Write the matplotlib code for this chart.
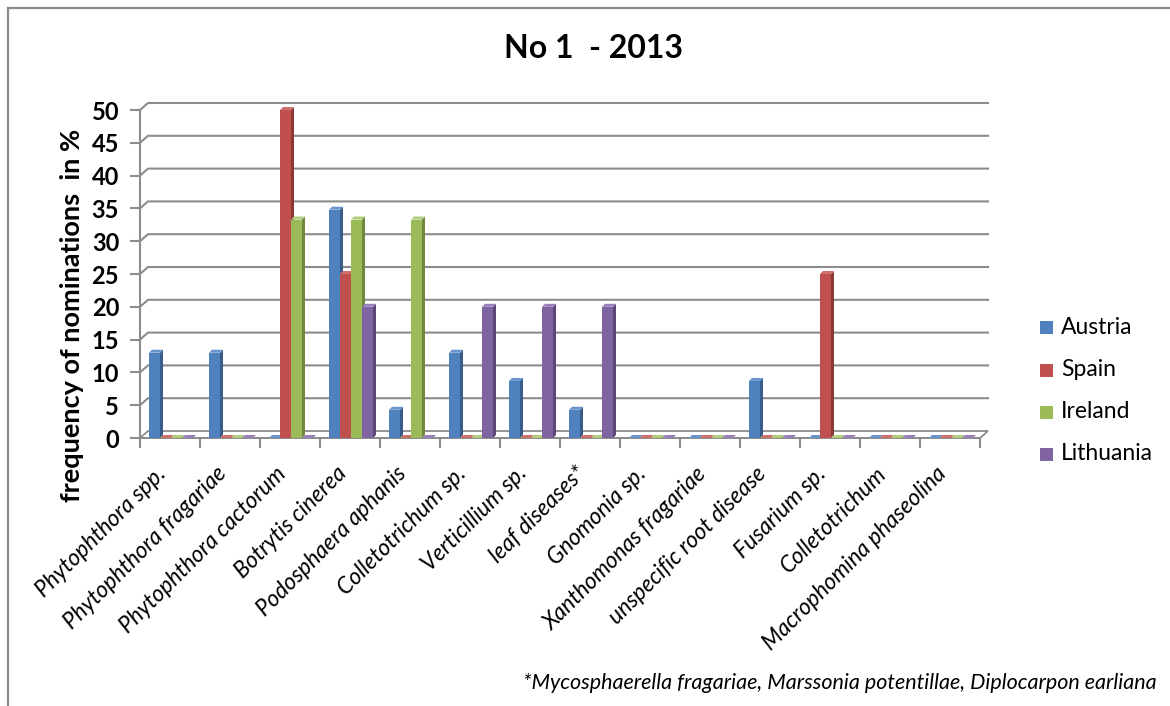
import matplotlib
matplotlib.use("Agg")
import matplotlib.pyplot as plt
from matplotlib.patches import Polygon
from matplotlib.lines import Line2D

pathogens = [
    "Phytophthora spp.", "Phytophthora fragariae", "Phytophthora cactorum",
    "Botrytis cinerea", "Podosphaera aphanis", "Colletotrichum sp.",
    "Verticillium sp.", "leaf diseases*", "Gnomonia sp.",
    "Xanthomonas fragariae", "unspecific root disease", "Fusarium sp.",
    "Colletotrichum", "Macrophomina phaseolina",
]
countries = ["Austria", "Spain", "Ireland", "Lithuania"]

austria = [13.0, 13.0, 0, 34.8, 4.3, 13.0, 8.7, 4.3, 0, 0, 8.7, 0, 0, 0]
spain = [0, 0, 50.0, 25.0, 0, 0, 0, 0, 0, 0, 0, 25.0, 0, 0]
ireland = [0, 0, 33.3, 33.3, 33.3, 0, 0, 0, 0, 0, 0, 0, 0, 0]
lithuania = [0, 0, 0, 20.0, 0, 20.0, 20.0, 20.0, 0, 0, 0, 0, 0, 0]

yticks = list(range(0, 55, 5))

face = ["#4F81BD", "#C0504D", "#9BBB59", "#8064A2"]
side = ["#385D8A", "#8C3836", "#71893F", "#5C4776"]
top = ["#6A95CC", "#D06E6B", "#B1CC7A", "#9A80BA"]
grey = "#8C8C8C"

plt.rcParams["font.family"] = ["Lato", "DejaVu Sans"]

W, H = 1170, 706
fig = plt.figure(figsize=(W / 100, H / 100), dpi=100)
fig.patch.set_facecolor("white")

# outer chart frame (left and top edges show)
fig.add_artist(Line2D([8 / W, 8 / W], [0, 1 - 8 / H], transform=fig.transFigure,
                      color=grey, lw=1.6))
fig.add_artist(Line2D([8 / W, 1], [1 - 8 / H, 1 - 8 / H], transform=fig.transFigure,
                      color=grey, lw=1.6))

ax_l, ax_r, ax_b, ax_t = 140, 980, 438, 110
ax = fig.add_axes([ax_l / W, 1 - ax_b / H, (ax_r - ax_l) / W, (ax_b - ax_t) / H])
n = len(pathogens)
ax.set_xlim(0, n)
ax.set_ylim(0, 50)

px_x = n / (ax_r - ax_l)
px_y = 50 / (ax_b - ax_t)
wall_dx, wall_dy = 8 * px_x, 7 * px_y
bar_dx, bar_dy = 3 * px_x, 3 * px_y

# floor
ax.add_patch(Polygon([(0, 0), (n, 0), (n + wall_dx, wall_dy), (wall_dx, wall_dy)],
                     closed=True, facecolor="white", edgecolor=grey, lw=1.3,
                     clip_on=False, zorder=1))

# back-wall gridlines with short side-wall connectors
for v in yticks[1:]:
    ax.plot([0, wall_dx, n + wall_dx], [v, v + wall_dy, v + wall_dy],
            color=grey, lw=1.5, clip_on=False, zorder=1)

series = [austria, spain, ireland, lithuania]
bw = 11 * px_x
start = 9 * px_x
for k, vals in enumerate(series):
    for i, v in enumerate(vals):
        x0 = i + start + k * bw
        x1 = x0 + bw
        ax.bar(x0, v, width=bw, align="edge", color=face[k], lw=0,
               zorder=3 + k, clip_on=False)
        ax.add_patch(Polygon([(x1, 0), (x1 + bar_dx, bar_dy), (x1 + bar_dx, v + bar_dy), (x1, v)],
                             closed=True, facecolor=side[k], lw=0, zorder=3 + k,
                             clip_on=False))
        ax.add_patch(Polygon([(x0, v), (x1, v), (x1 + bar_dx, v + bar_dy), (x0 + bar_dx, v + bar_dy)],
                             closed=True, facecolor=top[k], lw=0, zorder=3 + k,
                             clip_on=False))

for s in ["top", "right"]:
    ax.spines[s].set_visible(False)
ax.spines["left"].set_color(grey)
ax.spines["left"].set_linewidth(1.5)
ax.spines["bottom"].set_color(grey)
ax.spines["bottom"].set_linewidth(1.3)
ax.set_facecolor("none")

ax.set_yticks(yticks)
ax.set_yticklabels([str(t) for t in yticks], fontsize=17, fontweight="bold")
ax.tick_params(axis="y", length=7, width=1.5, color=grey, pad=8)
ax.set_xticks(range(n + 1))
ax.set_xticklabels([])
ax.tick_params(axis="x", length=7, width=1.5, color=grey, direction="out")

for i, name in enumerate(pathogens):
    ax.annotate(name, xy=(i + 0.46, 0), xycoords="data", xytext=(0, -26.5),
                textcoords="offset points", rotation=45, rotation_mode="anchor",
                ha="right", va="baseline", fontsize=16.3, fontstyle="italic",
                annotation_clip=False)

fig.text(72 / W, 1 - 315 / H, "frequency of nominations  in %", rotation=90,
         ha="center", va="center", fontsize=19.5, fontweight="bold")

fig.text(593 / W, 1 - 48 / H, "No 1  - 2013", ha="center", va="center",
         fontsize=23, fontweight="bold")

# legend
for k, name in enumerate(countries):
    yc = 1 - (328 + k * 42) / H
    fig.patches.append(plt.Rectangle((1040 / W, yc - 6.5 / H), 13 / W, 13 / H,
                                     transform=fig.transFigure, facecolor=face[k],
                                     lw=0))
    fig.text(1061 / W, yc, name, ha="left", va="center", fontsize=16.5)

fig.text(1157 / W, 1 - 683 / H,
         "*Mycosphaerella fragariae, Marssonia potentillae, Diplocarpon earliana",
         ha="right", va="center", fontsize=15.5, fontstyle="italic")

fig.savefig("out.png", dpi=100, facecolor="white")
